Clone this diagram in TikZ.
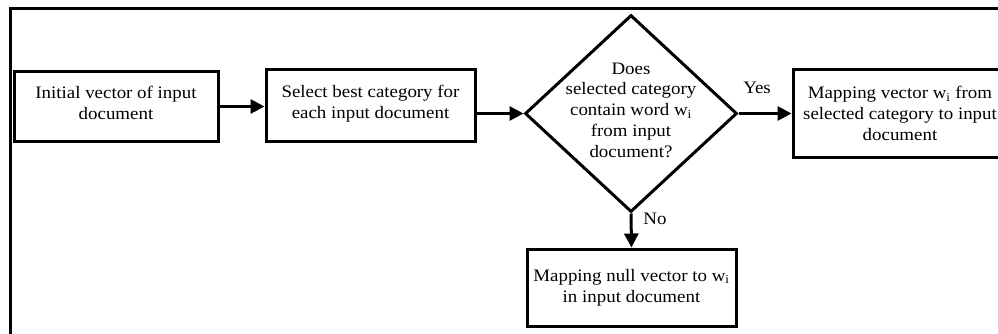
\documentclass[tikz,border=0pt]{standalone}
\usepackage{fontspec}
\setmainfont{Liberation Serif}[FakeStretch=1.08]
\usetikzlibrary{arrows.meta,shapes.geometric}
\begin{document}
\begin{tikzpicture}[x=1pt,y=-1pt,
	txt/.style={font=\fontsize{17.5}{20.7}\selectfont,align=center},
	box/.style={txt,draw,line width=3pt,inner sep=0pt},
	decision/.style={draw,diamond,line width=3pt,inner sep=0pt,minimum width=212pt,minimum height=197pt},
	flow/.style={line width=3pt,-{Triangle[length=14pt,width=14pt]}}]
\useasboundingbox (0,0) rectangle (998,334);
\clip (0,0) rectangle (998,334);
\draw[line width=3pt] (998,9)--(10,9)--(10,334);
\node[box,minimum width=204pt,minimum height=69pt] (init) at (116,106.5) {Initial vector of input\\document\rule[-7pt]{0pt}{7pt}};
\node[box,minimum width=209pt,minimum height=71pt] (select) at (370.5,105.5) {Select best category for\\each input document\rule[-8pt]{0pt}{8pt}};
\node[decision] (dec) at (631,113.5) {};
\node[txt] (dectext) at (631,110) {Does\\selected category\\contain word w\textsubscript{i}\\from input\\document?};
\node[box,minimum width=214pt,minimum height=87pt] (mapvec) at (900,113.5) {Mapping vector w\textsubscript{i} from\\selected category to input\\document};
\node[box,minimum width=209pt,minimum height=77pt] (mapnull) at (631.5,287.5) {Mapping null vector to w\textsubscript{i}\\in input document};
\draw[flow] (init.east)--(init.east -| select.west);
\draw[flow] (dec.west -| select.east)--(dec.west);
\draw[flow] (dec.east)--(dec.east -| mapvec.west);
\draw[flow] (dec.south)--(mapnull.north);
\node[txt] (yes) at (757,88) {Yes};
\node[txt] (no) at (655,219) {No};
\end{tikzpicture}
\end{document}
